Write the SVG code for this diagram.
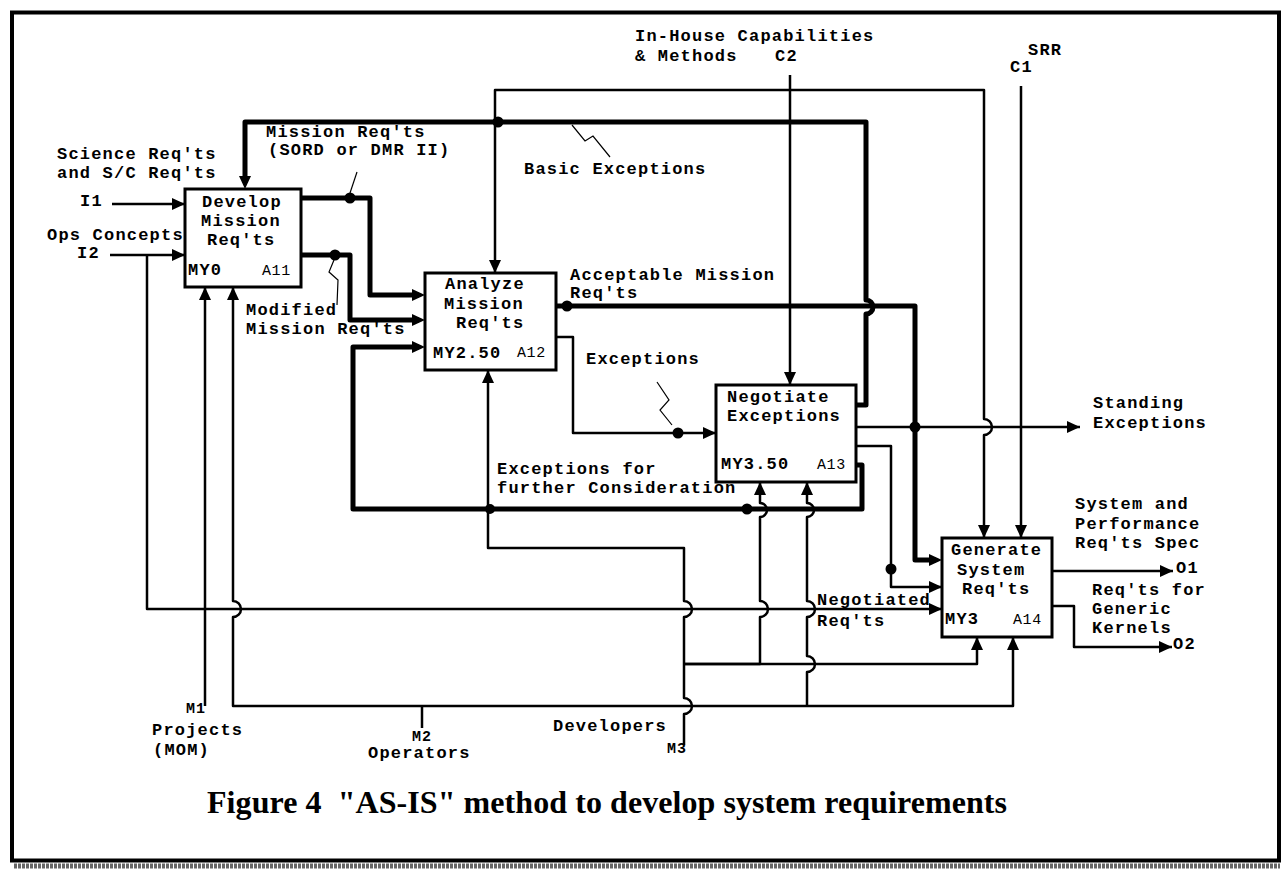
<svg xmlns="http://www.w3.org/2000/svg" width="1283" height="874" viewBox="0 0 1283 874">
<style>
.ln{fill:none;stroke:#000;stroke-width:2.5;stroke-linejoin:round}
.tk{fill:none;stroke:#000;stroke-width:5;stroke-linejoin:round}
.ld{fill:none;stroke:#000;stroke-width:1.2}
.box{fill:#fff;stroke:#000;stroke-width:3}
.t{font-family:"Liberation Mono","Courier New",monospace;font-weight:bold;font-size:17px;letter-spacing:1.2px;fill:#000}
.s{font-family:"Liberation Mono","Courier New",monospace;font-weight:bold;font-size:15px;letter-spacing:1px;fill:#000}
.id{font-family:"Liberation Mono","Courier New",monospace;font-size:15px;letter-spacing:0.6px;fill:#000}
.ttl{font-family:"Liberation Serif","Times New Roman",serif;font-weight:bold;font-size:32px;fill:#000;white-space:pre}
</style>
<defs>
<marker id="ah" markerUnits="userSpaceOnUse" markerWidth="14" markerHeight="12" refX="13" refY="6" orient="auto"><path d="M0,0 L13,6 L0,12 z"/></marker>
<marker id="at" markerUnits="userSpaceOnUse" markerWidth="14" markerHeight="12" refX="7" refY="6" orient="auto"><path d="M0,0 L13,6 L0,12 z"/></marker>
</defs>
<rect width="1283" height="874" fill="#fff"/>
<rect x="12" y="12.5" width="1267" height="848" fill="none" stroke="#000" stroke-width="4"/>
<line x1="14" y1="866" x2="1280" y2="866" stroke="#666" stroke-width="5" stroke-dasharray="3,1"/>

<g id="connectors">
<!-- inputs -->
<path class="ln" d="M112,204 H185" marker-end="url(#ah)"/>
<path class="ln" d="M110,255 H185" marker-end="url(#ah)"/>
<path class="ln" d="M147,255 V609 H942" marker-end="url(#ah)"/>
<!-- A11 outputs -->
<path class="tk" d="M301,198 H370 V295 H419" marker-end="url(#at)"/>
<path class="tk" d="M301,255 H350 V320 H419" marker-end="url(#at)"/>
<!-- feedback thick A13 -> A11 -->
<path class="tk" d="M856,405 H866 V314 A7,7 0 0,0 866,300 V122 H245 V183" marker-end="url(#at)"/>
<!-- acceptable mission reqts -->
<path class="tk" d="M556,306 H915 V560 H936" marker-end="url(#at)"/>
<!-- exceptions for further consideration -->
<path class="tk" d="M856,465 H862 V509 H353 V347 H419" marker-end="url(#at)"/>
<!-- exceptions -->
<path class="ln" d="M556,337 H573 V433 H716" marker-end="url(#ah)"/>
<!-- standing exceptions -->
<path class="ln" d="M856,427 H1080" marker-end="url(#ah)"/>
<!-- negotiated reqts -->
<path class="ln" d="M856,446 H891 V587 H942" marker-end="url(#ah)"/>
<!-- controls -->
<path class="ln" d="M790,75 V385" marker-end="url(#ah)"/>
<path class="ln" d="M790,90 H495 V273" marker-end="url(#ah)"/>
<path class="ln" d="M790,90 H984 V419 A8,8 0 0,1 984,435 V538" marker-end="url(#ah)"/>
<path class="ln" d="M1021,86 V538" marker-end="url(#ah)"/>
<!-- outputs -->
<path class="ln" d="M1052,571 H1173" marker-end="url(#ah)"/>
<path class="ln" d="M1052,606 H1074 V647 H1172" marker-end="url(#ah)"/>
<!-- mechanisms -->
<path class="ln" d="M205,706 V287" marker-end="url(#ah)"/>
<path class="ln" d="M422,728 V706"/>
<path class="ln" d="M422,706 H233 V617 A8,8 0 0,0 233,601 V287" marker-end="url(#ah)"/>
<path class="ln" d="M422,706 H1013 V637" marker-end="url(#ah)"/>
<path class="ln" d="M807,706 V672 A8,8 0 0,0 807,656 V617 A8,8 0 0,0 807,601 V517 A7,7 0 0,0 807,503 V482" marker-end="url(#ah)"/>
<path class="ln" d="M684,745 V714 A8,8 0 0,0 684,698 V617 A8,8 0 0,0 684,601 V548 H488 V370" marker-end="url(#ah)"/>
<path class="ln" d="M684,664 H977 V637" marker-end="url(#ah)"/>
<path class="ln" d="M684,664 H760 V617 A8,8 0 0,0 760,601 V517 A7,7 0 0,0 760,503 V482" marker-end="url(#ah)"/>
<!-- junction dots -->
<circle cx="350" cy="198" r="5.5"/>
<circle cx="335" cy="255" r="5.5"/>
<circle cx="498" cy="122" r="5.5"/>
<circle cx="567" cy="306" r="5.5"/>
<circle cx="678" cy="433" r="5.5"/>
<circle cx="915" cy="427" r="5.5"/>
<circle cx="891" cy="569" r="5.5"/>
<circle cx="747" cy="509" r="5.5"/>
<circle cx="490" cy="509" r="5"/>
<!-- label leaders -->
<path class="ld" d="M350,193 L357,172"/>
<path class="ld" d="M334,260 L329,272 L338,280 L337,305"/>
<path class="ld" d="M572,125 L585,141 L593,136 L610,157"/>
<path class="ld" d="M657,382 L669,400 L660,410 L672,425"/>
</g>

<g id="A11">
<rect class="box" x="185" y="189" width="116" height="98"/>
<text class="t" x="202" y="207">Develop</text>
<text class="t" x="201" y="226">Mission</text>
<text class="t" x="207" y="245">Req'ts</text>
<text class="t" x="188" y="275">MY0</text>
<text class="id" x="262" y="275">A11</text>
</g>
<g id="A12">
<rect class="box" x="425" y="273" width="131" height="97"/>
<text class="t" x="445" y="289">Analyze</text>
<text class="t" x="444" y="309">Mission</text>
<text class="t" x="456" y="328">Req'ts</text>
<text class="t" x="433" y="358">MY2.50</text>
<text class="id" x="517" y="357">A12</text>
</g>
<g id="A13">
<rect class="box" x="716" y="385" width="140" height="97"/>
<text class="t" x="727" y="402">Negotiate</text>
<text class="t" x="727" y="421">Exceptions</text>
<text class="t" x="721" y="469">MY3.50</text>
<text class="id" x="817" y="469">A13</text>
</g>
<g id="A14">
<rect class="box" x="942" y="538" width="110" height="99"/>
<text class="t" x="951" y="555">Generate</text>
<text class="t" x="957" y="575">System</text>
<text class="t" x="962" y="594">Req'ts</text>
<text class="t" x="945" y="624">MY3</text>
<text class="id" x="1013" y="624">A14</text>
</g>

<g id="labels">
<text class="t" x="57" y="159">Science Req'ts</text>
<text class="t" x="57" y="178">and S/C Req'ts</text>
<text class="t" x="80" y="206">I1</text>
<text class="t" x="47" y="240">Ops Concepts</text>
<text class="t" x="77" y="258">I2</text>
<text class="t" x="266" y="137">Mission Req'ts</text>
<text class="t" x="268" y="155">(SORD or DMR II)</text>
<text class="t" x="524" y="174">Basic Exceptions</text>
<text class="t" x="635" y="41">In-House Capabilities</text>
<text class="t" x="635" y="61">&amp; Methods</text>
<text class="t" x="775" y="61">C2</text>
<text class="t" x="1028" y="55">SRR</text>
<text class="t" x="1010" y="72">C1</text>
<text class="t" x="570" y="280">Acceptable Mission</text>
<text class="t" x="570" y="298">Req'ts</text>
<text class="t" x="246" y="315">Modified</text>
<text class="t" x="246" y="334">Mission Req'ts</text>
<text class="t" x="586" y="364">Exceptions</text>
<text class="t" x="497" y="474">Exceptions for</text>
<text class="t" x="497" y="493">further Consideration</text>
<text class="t" x="1093" y="408">Standing</text>
<text class="t" x="1093" y="428">Exceptions</text>
<text class="t" x="1075" y="509">System and</text>
<text class="t" x="1075" y="529">Performance</text>
<text class="t" x="1075" y="548">Req'ts Spec</text>
<text class="t" x="1176" y="573">O1</text>
<text class="t" x="1092" y="595">Req'ts for</text>
<text class="t" x="1092" y="614">Generic</text>
<text class="t" x="1092" y="633">Kernels</text>
<text class="t" x="1173" y="649">O2</text>
<text class="t" x="817" y="605">Negotiated</text>
<text class="t" x="817" y="626">Req'ts</text>
<text class="s" x="186" y="713">M1</text>
<text class="t" x="152" y="735">Projects</text>
<text class="t" x="153" y="755">(MOM)</text>
<text class="s" x="412" y="741">M2</text>
<text class="t" x="368" y="758">Operators</text>
<text class="t" x="553" y="731">Developers</text>
<text class="s" x="667" y="753">M3</text>
<text class="ttl" x="207" y="813" textLength="800" lengthAdjust="spacing">Figure 4  "AS-IS" method to develop system requirements</text>
</g>
</svg>
